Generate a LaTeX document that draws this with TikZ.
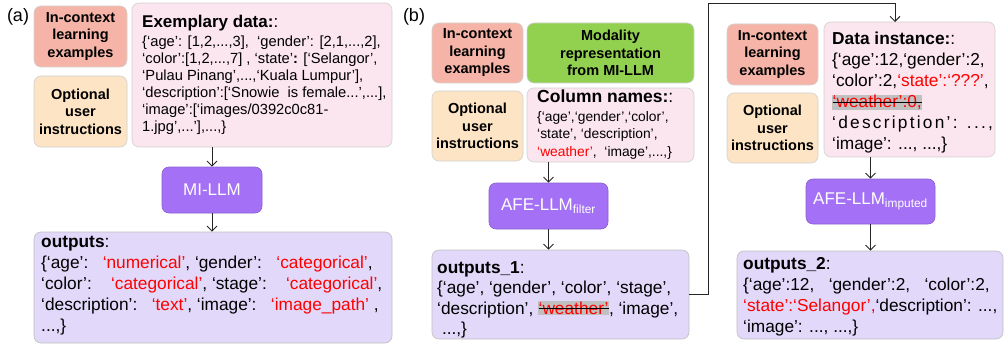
\documentclass[tikz,border=0pt]{standalone}
\usepackage{fontspec}
\setmainfont{Liberation Sans}
\usetikzlibrary{arrows.meta}
\definecolor{salmon}{RGB}{245,180,167}
\definecolor{peach}{RGB}{252,228,196}
\definecolor{pinkbg}{RGB}{251,229,238}
\definecolor{purp}{RGB}{164,112,246}
\definecolor{lav}{RGB}{225,216,250}
\definecolor{grn}{RGB}{146,208,80}
\definecolor{strikegray}{RGB}{192,192,192}
\definecolor{redtxt}{RGB}{255,0,0}
\newsavebox\strkbox
\newcommand\rd[1]{\textcolor{redtxt}{#1}}
\newcommand\strk[1]{{\setlength{\fboxsep}{0.5pt}\colorbox{strikegray}{\sbox\strkbox{\textcolor{redtxt}{#1}}\rlap{\usebox\strkbox}\raisebox{0.3em}{\rule{\wd\strkbox}{0.9pt}}}}}
\tikzset{
  box/.style={rounded corners=7pt, draw=black!18, line width=0.6pt, inner sep=0pt},
  hdr/.style={box, font=\fontsize{14.5}{17.5}\selectfont\bfseries, align=center},
  llm/.style={box, fill=purp, draw=purp!85!black, text=white, font=\fontsize{17}{20}\selectfont},
  txt/.style={anchor=north west, inner sep=0pt, align=left},
  arr/.style={-{Straight Barb[length=5pt,width=10pt]}, line width=0.9pt, draw=black!85},
  conn/.style={line width=1pt, draw=black!80},
  tag/.style={font=\fontsize{18}{20}\selectfont, inner sep=0pt}
}
\begin{document}
\begin{tikzpicture}[x=1pt,y=-1pt]
\useasboundingbox (0,0) rectangle (1005,345);
% ---------------- (a)
\node[tag] (la) at (18,17) {(a)};
\node[hdr, fill=salmon, minimum width=93, minimum height=61] (ica) at (80.5,36.5) {In-context\\learning\\examples};
\node[hdr, fill=peach, minimum width=93, minimum height=71] (opa) at (80.5,111.5) {Optional\\user\\instructions};
\node[box, fill=pinkbg, minimum width=260, minimum height=144] (exa) at (262,75) {};
\node[txt, font=\fontsize{17}{20}\selectfont] (exat) at (142,15) {\textbf{Exemplary data:}:};
\node[txt, font=\fontsize{14.7}{17}\selectfont] (exab) at (142,36) {\{‘age’: [1,2,...,3],\ \ ‘gender’: [2,1,...,2],\\
‘color’:[1,2,...,7] , ‘state’\textbf{:} [‘Selangor’,\\
‘Pulau Pinang’,...,‘Kuala Lumpur’],\\
‘description’:[‘Snowie\ \ is female...’,...],\\
‘image’:[‘images/0392c0c81-\\
1.jpg’,...’],...,\}};
\node[llm, minimum width=100, minimum height=46] (mia) at (212,190) {MI-LLM};
\node[box, fill=lav, draw=black!25, minimum width=358, minimum height=111] (oua) at (213,287.5) {};
\node[txt, font=\fontsize{17.3}{21}\selectfont] (ouat) at (41,236) {\textbf{outputs}:\\
\{‘age’:\ \ \ \rd{‘numerical’}, ‘gender’:\ \ \ \rd{‘categorical’},\\
‘color’:\ \ \ \ \rd{‘categorical’}, ‘stage’:\ \ \ \ \rd{‘categorical’},\\
‘description’:\ \ \ \rd{‘text’}, ‘image’:\ \ \ \rd{‘image\_path’}\ ,\\
...,\}};
\draw[arr] (exa.south -| mia) -- (mia.north);
\draw[arr] (mia.south) -- (oua.north -| mia);
% ---------------- (b)
\node[tag] (lb) at (414,17) {(b)};
\node[hdr, fill=salmon, minimum width=91, minimum height=60] (icb) at (477.5,53) {In-context\\learning\\examples};
\node[hdr, fill=grn, minimum width=167, minimum height=60] (mod) at (610.5,53) {Modality\\representation\\from MI-LLM};
\node[hdr, fill=peach, minimum width=91, minimum height=70] (opb) at (477.5,126) {Optional\\user\\instructions};
\node[box, fill=pinkbg, minimum width=167, minimum height=74] (col) at (610.5,125) {};
\node[txt, font=\fontsize{17.5}{20}\selectfont] (colt) at (537,90) {\textbf{Column names:}:};
\node[txt, font=\fontsize{13.8}{17.5}\selectfont] (colb) at (537,111) {\{‘age’,‘gender’,‘color’,\\
‘state’, ‘description’,\\
\rd{‘weather’},\ \ ‘image’,...,\}};
\node[llm, minimum width=119, minimum height=46] (afe1) at (548.5,206) {AFE-LLM\textsubscript{filter}};
\node[box, fill=lav, draw=black!25, minimum width=257, minimum height=89] (out1) at (560.5,294.5) {};
\node[txt, font=\fontsize{17.3}{20.5}\selectfont] (out1t) at (437,261) {\textbf{outputs\_1}:\\
\{‘age’, ‘gender’, ‘color’, ‘stage’,\\
‘description’, \strk{‘weather’}, ‘image’,\\
\ ...,\}};
\draw[arr] (col.south -| afe1) -- (afe1.north);
\draw[arr] (afe1.south) -- (out1.north -| afe1);
% right column
\node[hdr, fill=salmon, minimum width=91, minimum height=61] (icc) at (772.5,54.5) {In-context\\learning\\examples};
\node[hdr, fill=peach, minimum width=91, minimum height=70] (opc) at (772.5,128) {Optional\\user\\instructions};
\node[box, fill=pinkbg, minimum width=171, minimum height=135] (dat) at (909.5,89.5) {};
\node[txt, font=\fontsize{17.3}{21}\selectfont] (datt) at (832,32) {\textbf{Data instance:}:\\
\{‘age’:12,‘gender’:2,\\
‘color’:2,\rd{‘state’:‘???’},\\
\strk{‘weather’:0,}\\
{\addfontfeature{LetterSpace=13}‘description’: ...,}\\
‘image’: ..., ...,\}};
\node[llm, minimum width=129, minimum height=45] (afe2) at (870.5,201.5) {AFE-LLM\textsubscript{imputed}};
\node[box, fill=lav, draw=black!25, minimum width=266, minimum height=88] (out2) at (870,295) {};
\node[txt, font=\fontsize{17.3}{21}\selectfont] (out2t) at (743,257) {\textbf{outputs\_2}:\\
\{‘age’:12,\ \ \ ‘gender’:2,\ \ \ ‘color’:2,\\
\rd{‘state’:‘Selangor’,}‘description’: ...,\\
‘image’: ..., ...,\}};
\draw[arr] (dat.south -| afe2) -- (afe2.north);
\draw[arr] (afe2.south) -- (out2.north -| afe2);
% long connector
\coordinate (c1) at (708,3);
\coordinate (c2) at (895,22);
\draw[conn, arr] (out1.east) -| (c1) -| (c2);
\end{tikzpicture}
\end{document}
